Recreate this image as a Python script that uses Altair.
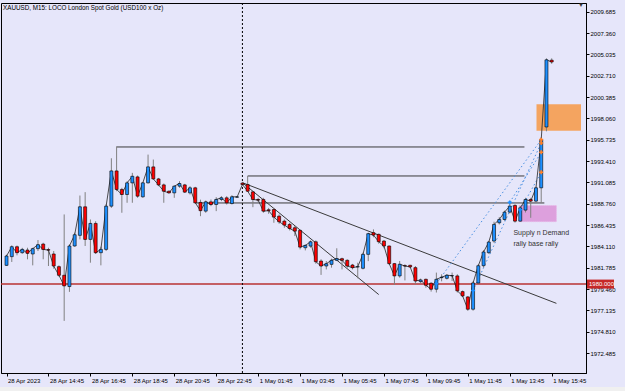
import altair as alt
import pandas as pd

# ---------------- data ----------------
opens = [1982.04, 1982.99, 1984.07, 1983.42, 1983.71, 1983.28, 1983.86, 1984.36, 1983.75, 1983.28,
         1981.90, 1980.96, 1979.73, 1984.15, 1985.31, 1988.42, 1984.87, 1986.61, 1983.42, 1983.78,
         1988.49, 1992.33, 1990.31, 1989.76, 1991.03, 1991.68, 1989.51, 1991.03, 1992.77, 1991.46,
         1990.81, 1990.12, 1989.94, 1990.67, 1990.81, 1989.94, 1990.49, 1988.90, 1987.95, 1988.96,
         1988.67, 1989.22, 1989.40, 1988.78, 1989.47, 1991.00, 1990.85, 1990.05, 1989.22, 1989.22,
         1988.10, 1988.13, 1987.40, 1986.86, 1986.50, 1986.14, 1985.85, 1983.96, 1984.14, 1984.61,
         1982.51, 1981.97, 1982.15, 1982.59, 1982.77, 1982.59, 1982.08, 1981.86, 1981.72, 1983.24,
         1985.60, 1985.42, 1984.69, 1984.15, 1982.23, 1980.89, 1982.00, 1982.05, 1981.79, 1980.27,
         1980.52, 1980.09, 1979.44, 1980.70, 1980.63, 1980.90, 1980.89, 1979.18, 1978.60, 1977.26,
         1980.12, 1982.00, 1983.42, 1984.69, 1986.68, 1987.04, 1987.84, 1988.57, 1986.86, 1988.06,
         1989.22, 1989.04, 1990.49, 1997.12, 2004.40]
highs = [1983.20, 1984.22, 1984.20, 1983.95, 1983.96, 1983.96, 1984.80, 1984.50, 1983.96, 1983.60,
         1982.04, 1987.59, 1984.33, 1985.60, 1989.65, 1990.02, 1987.04, 1986.85, 1984.07, 1988.70,
         1993.71, 1995.00, 1990.49, 1991.21, 1992.12, 1991.83, 1991.10, 1994.11, 1993.57, 1991.57,
         1990.96, 1990.20, 1990.74, 1991.21, 1990.92, 1990.67, 1990.60, 1989.20, 1989.10, 1989.22,
         1989.47, 1989.58, 1989.58, 1989.69, 1989.58, 1991.13, 1991.78, 1990.12, 1989.40, 1989.40,
         1988.30, 1988.30, 1987.59, 1987.04, 1986.68, 1986.32, 1985.95, 1984.32, 1984.76, 1984.76,
         1982.70, 1982.51, 1982.77, 1983.90, 1982.88, 1982.70, 1982.20, 1982.33, 1983.42, 1985.60,
         1985.96, 1985.50, 1984.80, 1984.20, 1982.30, 1982.52, 1982.16, 1982.10, 1981.97, 1980.60,
         1980.60, 1980.20, 1981.25, 1981.07, 1981.10, 1981.25, 1981.07, 1979.30, 1978.70, 1980.30,
         1982.16, 1983.70, 1984.70, 1986.80, 1987.30, 1988.00, 1989.00, 1988.70, 1988.50, 1989.40,
         1989.40, 1990.60, 1996.00, 2004.60, 2004.60]
lows = [1981.97, 1982.41, 1983.13, 1983.30, 1982.70, 1982.04, 1983.60, 1982.70, 1981.97, 1981.68,
        1980.80, 1975.99, 1979.15, 1984.07, 1984.87, 1984.15, 1982.33, 1983.28, 1982.04, 1983.60,
        1988.30, 1990.12, 1987.77, 1988.86, 1988.86, 1989.40, 1989.40, 1990.96, 1991.39, 1990.67,
        1988.86, 1989.87, 1989.40, 1990.49, 1989.94, 1989.76, 1988.78, 1987.40, 1987.77, 1988.49,
        1987.95, 1989.04, 1988.67, 1988.67, 1989.40, 1990.78, 1990.05, 1988.38, 1988.96, 1987.77,
        1987.66, 1986.68, 1986.57, 1986.14, 1985.85, 1985.23, 1983.78, 1983.67, 1983.96, 1982.22,
        1981.00, 1981.60, 1981.79, 1982.51, 1981.60, 1981.79, 1981.60, 1980.63, 1981.60, 1982.50,
        1985.10, 1984.40, 1983.90, 1982.10, 1979.91, 1980.70, 1980.40, 1981.80, 1979.98, 1980.10,
        1979.60, 1979.18, 1979.08, 1980.30, 1980.50, 1980.34, 1979.08, 1978.60, 1977.08, 1977.10,
        1979.98, 1981.80, 1983.30, 1984.50, 1986.50, 1986.90, 1987.70, 1986.70, 1986.80, 1987.80,
        1987.22, 1988.90, 1988.86, 1996.65, 2004.00]
closes = [1983.06, 1984.07, 1983.42, 1983.78, 1983.35, 1983.86, 1984.29, 1983.78, 1983.70, 1981.97,
          1980.96, 1979.80, 1984.15, 1985.38, 1988.42, 1984.87, 1986.61, 1983.42, 1983.78, 1988.49,
          1992.33, 1990.31, 1989.76, 1991.03, 1991.75, 1989.58, 1991.03, 1992.77, 1991.46, 1990.81,
          1990.12, 1989.94, 1990.67, 1990.96, 1990.02, 1990.49, 1988.86, 1988.00, 1988.96, 1988.67,
          1989.22, 1989.40, 1988.85, 1989.51, 1989.50, 1990.85, 1990.12, 1989.22, 1989.15, 1987.95,
          1988.00, 1987.30, 1986.79, 1986.43, 1986.06, 1985.77, 1984.03, 1984.21, 1984.61, 1982.44,
          1981.97, 1982.22, 1982.59, 1982.77, 1982.59, 1981.97, 1981.79, 1981.90, 1983.24, 1985.49,
          1985.34, 1984.62, 1984.15, 1982.23, 1980.89, 1982.16, 1981.97, 1981.87, 1980.34, 1980.45,
          1979.87, 1979.44, 1980.52, 1980.75, 1980.96, 1980.92, 1979.26, 1978.71, 1977.26, 1980.12,
          1982.00, 1983.50, 1984.58, 1986.50, 1987.04, 1987.84, 1988.50, 1986.86, 1988.31, 1989.22,
          1989.04, 1990.49, 1995.74, 2004.44, 2004.20]

x_tick_values = [0, 8, 16, 24, 32, 40, 48, 56, 64, 72, 80, 88, 96, 104]
x_tick_labels = ["28 Apr 2023", "28 Apr 14:45", "28 Apr 16:45", "28 Apr 18:45", "28 Apr 20:45",
                 "28 Apr 22:45", "1 May 01:45", "1 May 03:45", "1 May 05:45", "1 May 07:45",
                 "1 May 09:45", "1 May 11:45", "1 May 13:45", "1 May 15:45"]
y_tick_values = [2009.685, 2007.360, 2005.035, 2002.710, 2000.385, 1998.060, 1995.735, 1993.410,
                 1991.085, 1988.760, 1986.435, 1984.110, 1981.785, 1979.460, 1977.135, 1974.810,
                 1972.485]

level_start = [21, 46, 36]
level_end = [98.8, 98.8, 102.6]
level_price = [1994.94, 1991.78, 1988.84]

trend_k1 = [45.0, 45.0]
trend_p1 = [1991.05, 1991.05]
trend_k2 = [104.9, 71.0]
trend_p2 = [1977.90, 1978.86]

fan_k1 = [82, 89, 96, 98]
fan_p1 = [1980.05, 1979.30, 1988.90, 1988.10]
fan_k2 = [102, 102, 102, 102]
fan_p2 = [1995.74, 1995.38, 1994.36, 1992.18]

supply_k = [101.1, 109.59]
supply_p = [1996.72, 1999.59]
demand_k = [97.8, 104.9]
demand_p = [1986.80, 1988.56]

support_price = 1980.0
separator_k = 45
note_lines = ["Supply n Demand", "rally base rally"]
note_k = [96.7, 96.7]
note_p = [1985.57, 1984.37]
title_text = "XAUUSD, M15:  LOCO London Spot Gold (USD100 x Oz)"

# ---------------- tables ----------------
bars = pd.DataFrame({"k": list(range(len(opens))), "open": opens, "high": highs,
                     "low": lows, "close": closes})
levels = pd.DataFrame({"k1": level_start, "k2": level_end, "p": level_price})
trends = pd.DataFrame({"k1": trend_k1, "p1": trend_p1, "k2": trend_k2, "p2": trend_p2})
fans = pd.DataFrame({"k1": fan_k1, "p1": fan_p1, "k2": fan_k2, "p2": fan_p2})
supply = pd.DataFrame({"k1": [supply_k[0]], "k2": [supply_k[1]],
                       "lo": [supply_p[0]], "hi": [supply_p[1]]})
demand = pd.DataFrame({"k1": [demand_k[0]], "k2": [demand_k[1]],
                       "lo": [demand_p[0]], "hi": [demand_p[1]]})
marks_blue = pd.DataFrame({"k": fan_k1, "p": fan_p1})
marks_orange = pd.DataFrame({"k": fan_k2, "p": fan_p2})
notes = pd.DataFrame({"k": note_k, "p": note_p, "t": note_lines})
one = pd.DataFrame({"p": [support_price], "k": [separator_k], "t": [title_text]})

FONT = "Liberation Sans"
xs = alt.Scale(domain=[-0.1, 109.59], nice=False, zero=False)
ys = alt.Scale(domain=[1970.31, 2010.63], nice=False, zero=False)

label_expr = ("[" + ",".join("'%s'" % s for s in x_tick_labels) + "][indexof(["
              + ",".join(str(v) for v in x_tick_values) + "], datum.value)]")
x_axis = alt.Axis(values=x_tick_values, labelExpr=label_expr, title=None, grid=False,
                  tickSize=3, tickColor="#000", domainColor="#000", labelAlign="left",
                  labelBaseline="top", labelPadding=1, labelOffset=1, labelFont=FONT,
                  labelFontSize=6, labelColor="#000", labelOverlap=False, labelFlush=False,
                  labelBound=False)
y_axis = alt.Axis(orient="right", values=y_tick_values, format=".3f", title=None, grid=False,
                  tickSize=3, tickColor="#000", domainColor="#000", labelPadding=1,
                  labelFont=FONT, labelFontSize=6, labelColor="#000", labelOverlap=False,
                  labelBaseline="middle", labelFlush=False, labelBound=False)


def X(f):
    return alt.X(f, type="quantitative", scale=xs, axis=x_axis)


def Y(f):
    return alt.Y(f, type="quantitative", scale=ys, axis=y_axis)


supply_layer = alt.Chart(supply).mark_rect(clip=True, color="#F4A460", opacity=1).encode(
    x=X("k1"), x2="k2", y=Y("lo"), y2="hi")
demand_layer = alt.Chart(demand).mark_rect(clip=True, color="#DDA0DD", opacity=1,
                                           stroke="#E8B8E8", strokeWidth=1,
                                           strokeDash=[1, 1]).encode(
    x=X("k1"), x2="k2", y=Y("lo"), y2="hi")

level_layer = alt.Chart(levels).mark_rule(color="#3a3a3a", strokeWidth=1, clip=True).encode(
    x=X("k1"), x2="k2", y=Y("p"))

support_layer = alt.Chart(one).mark_rule(color="#B83232", strokeWidth=1.5).encode(
    y=Y("p"))

sep_layer = alt.Chart(one).mark_rule(color="#000", strokeWidth=1, strokeDash=[2, 2]).encode(
    x=X("k"))

trend_layer = alt.Chart(trends).mark_rule(color="#3a3a3a", strokeWidth=1, clip=True).encode(
    x=X("k1"), x2="k2", y=Y("p1"), y2="p2")

fan_layer = alt.Chart(fans).mark_rule(color="#4A90E2", strokeWidth=1, strokeDash=[1.5, 2.5],
                                      clip=True).encode(
    x=X("k1"), x2="k2", y=Y("p1"), y2="p2")

wick_layer = alt.Chart(bars).mark_rule(color="#808080", strokeWidth=1, clip=True).encode(
    x=X("k"), y=Y("low"), y2="high")

close_layer = alt.Chart(bars).mark_line(color="#222", strokeWidth=0.8, clip=True).encode(
    x=X("k"), y=Y("close"))

body_layer = alt.Chart(bars).mark_bar(size=3, stroke="#000", strokeWidth=0.6, clip=True).encode(
    x=X("k"), y=Y("open"), y2="close",
    color=alt.condition("datum.close >= datum.open", alt.value("#1E90FF"), alt.value("#FF0000")))

blue_pts = alt.Chart(marks_blue).mark_point(shape="cross", filled=True, size=16,
                                             color="#1E90FF", opacity=1).encode(
    x=X("k"), y=Y("p"))
orange_pts = alt.Chart(marks_orange).mark_point(shape="cross", filled=True, size=16,
                                                 color="#FF7F27", opacity=1).encode(
    x=X("k"), y=Y("p"))

note_layer = alt.Chart(notes).mark_text(align="left", baseline="middle", font=FONT,
                                        fontSize=7, color="#333").encode(
    x=X("k"), y=Y("p"), text="t:N")

title_layer = alt.Chart(one).mark_text(align="left", baseline="middle", font=FONT,
                                       fontSize=6.3, color="#000").encode(
    x=alt.value(2), y=alt.value(5), text="t:N")

tag_rect = alt.Chart(one).mark_rule(color="#C62828", strokeWidth=9, strokeCap="butt").encode(
    x=alt.value(586), x2=alt.value(613), y=Y("p"))
tag_text = alt.Chart(one).mark_text(align="left", baseline="middle", font=FONT, fontSize=6,
                                    color="#FFFFFF").encode(
    x=alt.value(588), y=Y("p"), text=alt.value("1980.000"))

corner = alt.Chart(one).mark_text(align="center", baseline="middle", fontSize=6,
                                  color="#333").encode(
    x=alt.value(580), y=alt.value(2), text=alt.value("▼"))

strip = alt.Chart(one).mark_rect(color="#F0F0F0").encode(
    x=alt.value(-1), x2=alt.value(624), y=alt.value(384), y2=alt.value(388))

chart = alt.layer(
    strip, supply_layer, demand_layer, level_layer, support_layer, sep_layer, trend_layer,
    fan_layer, wick_layer, close_layer, body_layer, blue_pts, orange_pts, note_layer,
    title_layer, tag_rect, tag_text, corner
).properties(
    width=585, height=370, background="#E6E6FA",
    padding={"left": 1, "top": 3, "right": 39, "bottom": 18},
    autosize=alt.AutoSizeParams(type="none")
).configure_view(stroke="#000", strokeWidth=1)

chart.save("out.html", embed_options={"renderer": "svg", "actions": False})
